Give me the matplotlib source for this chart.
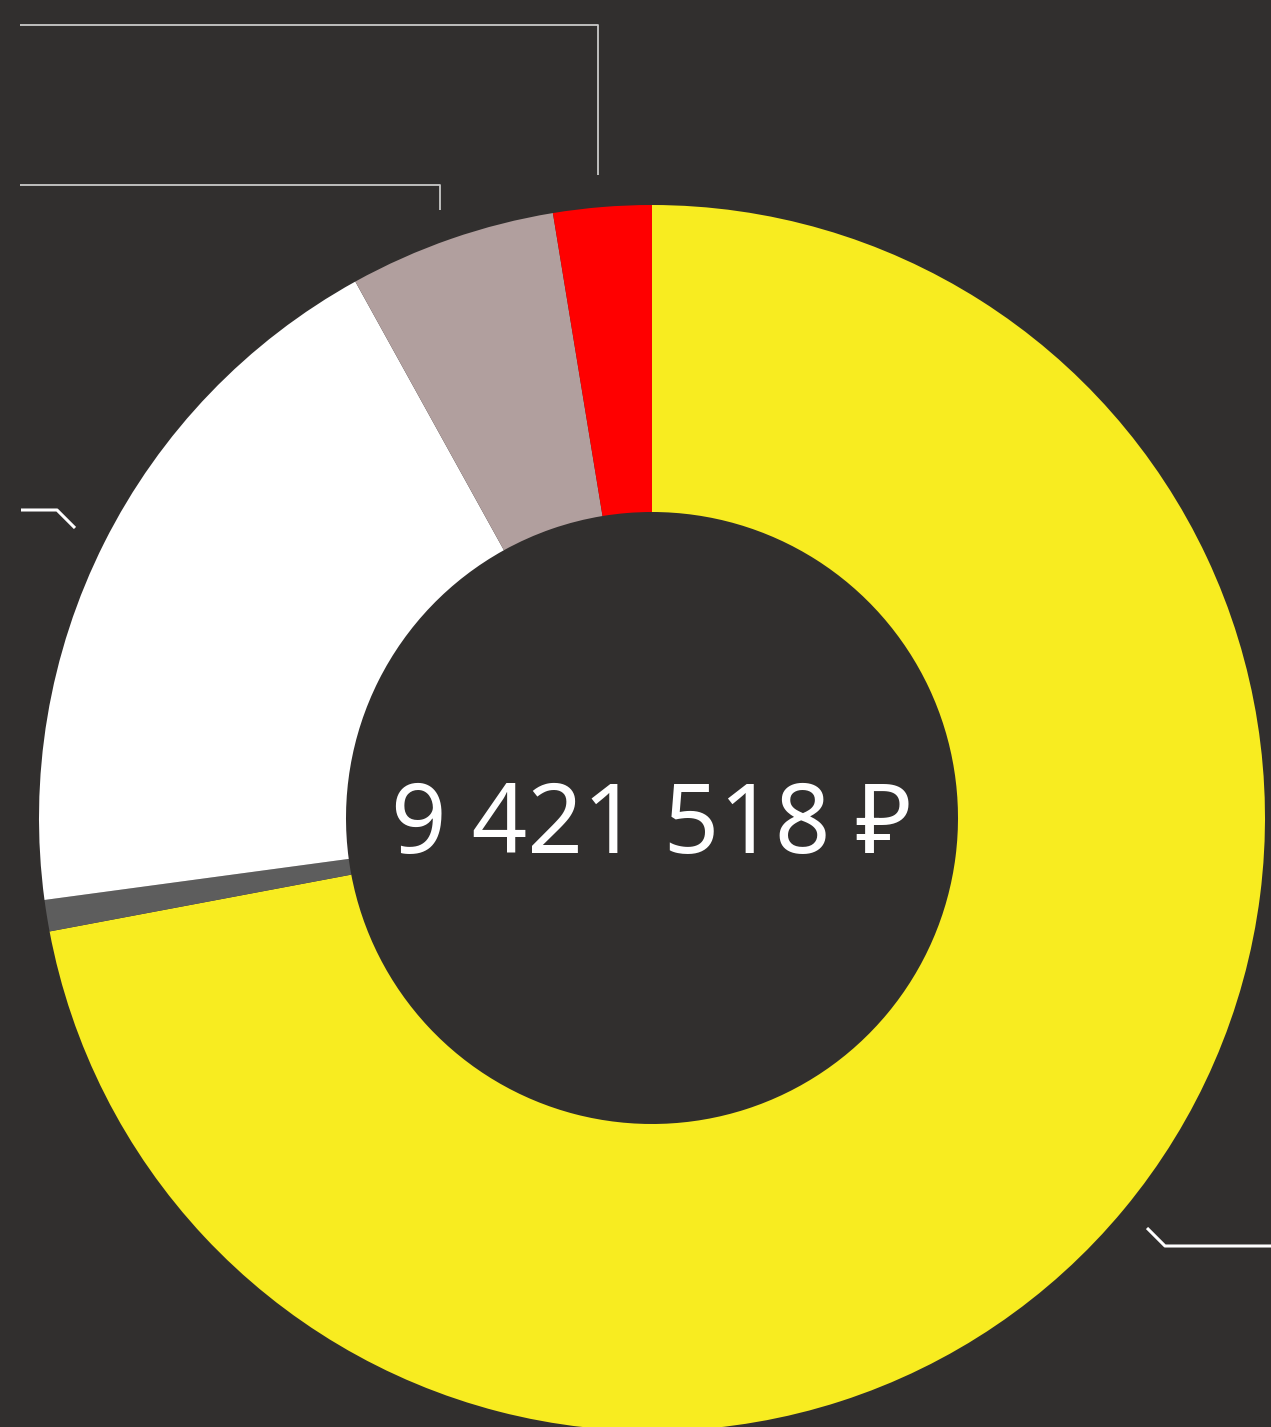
import matplotlib.pyplot as plt

# donut data (rubles), clockwise from 12 o'clock
labels = ["yellow", "gray", "white", "rosy", "red"]
values = [6787000, 78000, 1799000, 514000, 243518]
colors = ["#f8ec20", "#5d5d5d", "#ffffff", "#b19f9e", "#ff0000"]
total_text = "9 421 518 ₽"

W, H = 1271, 1427
bg = "#312f2e"

fig = plt.figure(figsize=(W / 100, H / 100), dpi=100, facecolor=bg)
ax = fig.add_axes([0, 0, 1, 1])
ax.set_facecolor(bg)

cx, cy = 652, H - 818
ax.pie(values, colors=colors, startangle=90, counterclock=False,
       center=(cx, cy), radius=613,
       wedgeprops=dict(width=307, linewidth=0))

# leader lines (pixel coords, y from top)
leaders = [
    ([20, 598, 598], [25, 25, 175], "#c9c9c9", 1.3),
    ([20, 440, 440], [185, 185, 210], "#c9c9c9", 1.3),
    ([21, 57, 75], [510, 510, 528], "#ffffff", 2.2),
    ([1147, 1165, 1271], [1228, 1246, 1246], "#ffffff", 2.2),
]
for xs, ys, c, lw in leaders:
    ax.plot(xs, [H - y for y in ys], color=c, lw=lw, solid_capstyle="butt")

ax.text(cx, cy - 10, total_text, color="white", fontsize=70,
        ha="center", va="center", family=["Noto Sans", "DejaVu Sans"],
        fontweight="light", fontstretch="condensed")

ax.set_xlim(0, W)
ax.set_ylim(0, H)
ax.axis("off")
fig.savefig("out.png", dpi=100, facecolor=bg)
